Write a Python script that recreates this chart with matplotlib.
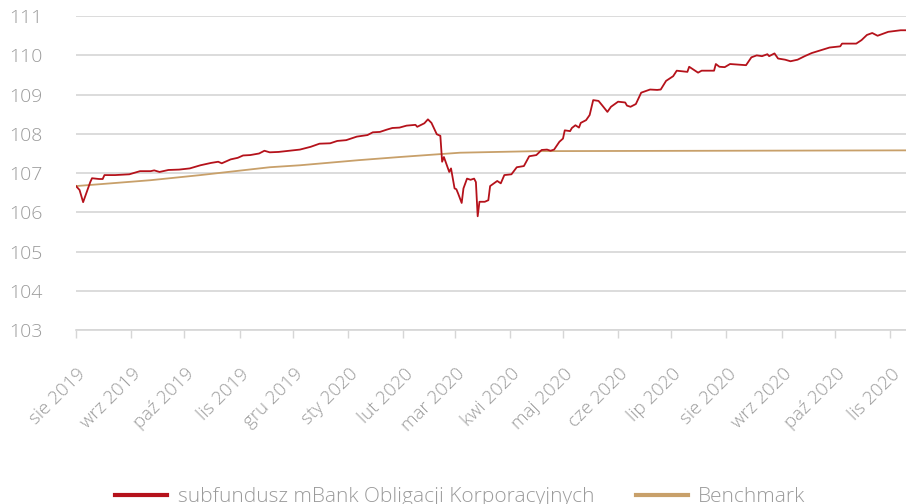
import pandas as pd
import matplotlib
matplotlib.use("Agg")
import matplotlib.pyplot as plt
from matplotlib.transforms import ScaledTranslation

plt.rcParams['font.family'] = ['Open Sans', 'DejaVu Sans']

# fund
fund_dates = [
    "2019-08-01", "2019-08-03", "2019-08-05", "2019-08-09", "2019-08-10", "2019-08-14",
    "2019-08-16", "2019-08-17", "2019-08-23", "2019-08-31", "2019-09-06", "2019-09-12",
    "2019-09-14", "2019-09-17", "2019-09-22", "2019-09-28", "2019-10-04", "2019-10-10",
    "2019-10-16", "2019-10-20", "2019-10-22", "2019-10-27", "2019-10-31", "2019-11-03",
    "2019-11-07", "2019-11-12", "2019-11-15", "2019-11-18", "2019-11-23", "2019-11-29",
    "2019-12-05", "2019-12-11", "2019-12-16", "2019-12-22", "2019-12-26", "2019-12-31",
    "2020-01-06", "2020-01-12", "2020-01-15", "2020-01-19", "2020-01-23", "2020-01-26",
    "2020-01-30", "2020-02-03", "2020-02-08", "2020-02-09", "2020-02-13", "2020-02-15",
    "2020-02-17", "2020-02-20", "2020-02-22", "2020-02-23", "2020-02-24", "2020-02-27",
    "2020-02-28", "2020-03-01", "2020-03-02", "2020-03-03", "2020-03-05", "2020-03-06",
    "2020-03-08", "2020-03-10", "2020-03-12", "2020-03-13", "2020-03-14", "2020-03-15",
    "2020-03-18", "2020-03-20", "2020-03-21", "2020-03-25", "2020-03-27", "2020-03-29",
    "2020-04-02", "2020-04-05", "2020-04-09", "2020-04-12", "2020-04-16", "2020-04-19",
    "2020-04-22", "2020-04-24", "2020-04-26", "2020-04-29", "2020-05-01", "2020-05-02",
    "2020-05-05", "2020-05-06", "2020-05-08", "2020-05-10", "2020-05-11", "2020-05-14",
    "2020-05-16", "2020-05-18", "2020-05-21", "2020-05-23", "2020-05-26", "2020-05-28",
    "2020-06-01", "2020-06-05", "2020-06-06", "2020-06-08", "2020-06-11", "2020-06-14",
    "2020-06-19", "2020-06-23", "2020-06-25", "2020-06-28", "2020-07-02", "2020-07-04",
    "2020-07-10", "2020-07-11", "2020-07-13", "2020-07-16", "2020-07-18", "2020-07-25",
    "2020-07-26", "2020-07-28", "2020-07-31", "2020-08-03", "2020-08-12", "2020-08-15",
    "2020-08-18", "2020-08-21", "2020-08-24", "2020-08-25", "2020-08-28", "2020-08-30",
    "2020-09-03", "2020-09-06", "2020-09-10", "2020-09-14", "2020-09-18", "2020-09-23",
    "2020-09-28", "2020-10-04", "2020-10-05", "2020-10-13", "2020-10-16", "2020-10-19",
    "2020-10-22", "2020-10-25", "2020-10-31", "2020-11-07", "2020-11-10",
]
fund_values = [
    106.67, 106.57, 106.26, 106.77, 106.87, 106.85,
    106.85, 106.95, 106.95, 106.97, 107.05, 107.05,
    107.07, 107.03, 107.08, 107.09, 107.12, 107.20,
    107.26, 107.29, 107.25, 107.35, 107.39, 107.45,
    107.46, 107.50, 107.57, 107.53, 107.54, 107.57,
    107.60, 107.67, 107.75, 107.76, 107.82, 107.84,
    107.93, 107.97, 108.04, 108.05, 108.11, 108.15,
    108.16, 108.21, 108.23, 108.18, 108.27, 108.37,
    108.28, 107.99, 107.95, 107.29, 107.41, 107.03,
    107.12, 106.61, 106.59, 106.48, 106.24, 106.61,
    106.86, 106.83, 106.86, 106.77, 105.90, 106.27,
    106.27, 106.31, 106.67, 106.80, 106.74, 106.95,
    106.97, 107.15, 107.18, 107.43, 107.46, 107.59,
    107.60, 107.57, 107.60, 107.80, 107.88, 108.09,
    108.07, 108.15, 108.22, 108.16, 108.28, 108.35,
    108.48, 108.86, 108.84, 108.73, 108.56, 108.69,
    108.82, 108.80, 108.72, 108.69, 108.76, 109.05,
    109.13, 109.12, 109.13, 109.35, 109.47, 109.61,
    109.58, 109.71, 109.65, 109.56, 109.61, 109.61,
    109.78, 109.71, 109.70, 109.78, 109.75, 109.95,
    110.00, 109.98, 110.03, 109.98, 110.05, 109.92,
    109.89, 109.85, 109.89, 109.98, 110.06, 110.13,
    110.20, 110.23, 110.30, 110.30, 110.39, 110.52,
    110.57, 110.50, 110.60, 110.64, 110.64,
]

# benchmark
bench_dates = [
    "2019-08-01", "2019-09-12", "2019-10-10", "2019-11-18", "2019-12-05", "2020-01-07",
    "2020-01-30", "2020-03-04", "2020-03-25", "2020-04-16", "2020-11-10",
]
bench_values = [
    106.67, 106.82, 106.95, 107.15, 107.20, 107.33,
    107.41, 107.52, 107.54, 107.56, 107.58,
]

month_ticks = pd.date_range("2019-08-01", "2020-11-01", freq="MS")
month_names = ["sty", "lut", "mar", "kwi", "maj", "cze",
               "lip", "sie", "wrz", "paź", "lis", "gru"]
tick_labels = [f"{month_names[d.month - 1]} {d.year}" for d in month_ticks]

fund_name = "subfundusz mBank Obligacji Korporacyjnych"
bench_name = "Benchmark"
grey = "#9b9b9b"

fig = plt.figure(figsize=(9.06, 5.04), dpi=100)
ax = fig.add_axes([0.0839, 0.345, 0.9161, 0.623])

ax.plot(pd.to_datetime(bench_dates), bench_values, color="#c8a06a", lw=1.3,
        label=bench_name, zorder=3)
ax.plot(pd.to_datetime(fund_dates), fund_values, color="#b5121b", lw=1.3,
        label=fund_name, zorder=4)

ax.set_ylim(103, 111)
ax.set_yticks(range(103, 112))
ax.set_xlim(pd.Timestamp("2019-08-01"), pd.Timestamp("2020-11-10"))
ax.set_xticks(month_ticks)
ax.set_xticklabels(tick_labels, rotation=45, ha="right", va="center",
                   rotation_mode="anchor")

ax.grid(axis="y", color="#d6d6d6", lw=1.2)
ax.set_axisbelow(True)
for s in ["top", "right", "left"]:
    ax.spines[s].set_visible(False)
ax.spines["bottom"].set_color("#d6d6d6")
ax.spines["bottom"].set_linewidth(1.2)

ax.tick_params(axis="y", length=0, pad=24, labelsize=14, labelcolor=grey)
ax.tick_params(axis="x", length=6, width=1, color="#d6d6d6", pad=0,
               labelsize=13.5, labelcolor=grey)
for lab in ax.get_yticklabels():
    lab.set_fontweight("light")
off = ScaledTranslation(7 / 100, -33 / 100, fig.dpi_scale_trans)
for lab in ax.get_xticklabels():
    lab.set_transform(lab.get_transform() + off)
    lab.set_fontweight("light")

h, l = ax.get_legend_handles_labels()
leg = fig.legend(h[::-1], l[::-1], loc="center", bbox_to_anchor=(0.508, 0.014),
                 ncol=2, frameon=False, fontsize=15, handlelength=2.5,
                 handletextpad=0.5, columnspacing=2.0)
for line in leg.get_lines():
    line.set_linewidth(3)
for t in leg.get_texts():
    t.set_color(grey)
    t.set_fontweight("light")

fig.savefig("out.png", dpi=100)
